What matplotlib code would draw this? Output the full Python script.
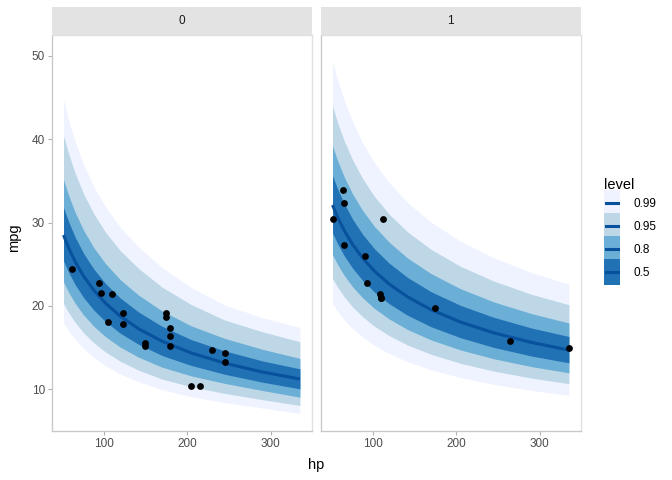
import matplotlib
matplotlib.use("Agg")
import matplotlib.pyplot as plt
from matplotlib.patches import Patch, Rectangle
from matplotlib.lines import Line2D

plt.rcParams['font.family'] = ['Liberation Sans', 'DejaVu Sans']

# prediction grid (hp) shared by both panels
hp_grid = [52, 58, 66, 76, 88, 102, 120, 142, 170, 205, 245, 290, 335]

# am = 0 : median and interval bounds
med_0 = [28.50, 26.99, 25.30, 23.57, 21.91, 20.35, 18.76, 17.25, 15.76, 14.35, 13.13, 12.07, 11.23]
up99_0 = [44.70, 42.33, 39.68, 36.97, 34.36, 31.92, 29.42, 27.05, 24.60, 22.20, 20.10, 18.60, 17.40]
up95_0 = [40.44, 38.30, 35.90, 33.45, 31.09, 28.88, 26.62, 24.48, 22.25, 20.15, 18.30, 16.90, 15.70]
up80_0 = [35.16, 33.30, 31.21, 29.08, 27.03, 25.11, 23.14, 21.28, 19.40, 17.60, 16.10, 14.80, 13.70]
up50_0 = [31.81, 30.13, 28.24, 26.31, 24.46, 22.72, 20.94, 19.26, 17.55, 15.95, 14.60, 13.40, 12.45]
lo50_0 = [25.40, 24.06, 22.55, 21.01, 19.53, 18.14, 16.72, 15.38, 14.05, 12.85, 11.80, 10.85, 10.05]
lo80_0 = [22.87, 21.66, 20.30, 18.92, 17.58, 16.33, 15.05, 13.84, 12.65, 11.60, 10.70, 9.85, 9.05]
lo95_0 = [20.29, 19.21, 18.01, 16.78, 15.60, 14.49, 13.35, 12.28, 11.22, 10.30, 9.50, 8.75, 8.05]
lo99_0 = [17.99, 17.04, 15.97, 14.88, 13.83, 12.85, 11.84, 10.89, 9.95, 9.10, 8.40, 7.75, 7.10]

# am = 1
med_1 = [32.10, 30.66, 29.05, 27.38, 25.75, 24.20, 22.61, 21.07, 19.54, 18.07, 16.77, 15.62, 14.70]
up99_1 = [49.35, 47.13, 44.66, 42.09, 39.59, 37.20, 34.76, 32.39, 30.04, 27.78, 25.78, 24.01, 22.60]
up95_1 = [43.99, 42.01, 39.81, 37.52, 35.29, 33.16, 30.98, 28.87, 26.78, 24.76, 22.98, 21.40, 20.14]
up80_1 = [39.21, 37.45, 35.48, 33.44, 31.45, 29.56, 27.62, 25.73, 23.87, 22.07, 20.48, 19.08, 17.95]
up50_1 = [35.65, 34.05, 32.27, 30.41, 28.60, 26.88, 25.11, 23.40, 21.70, 20.07, 18.63, 17.35, 16.33]
lo50_1 = [28.76, 27.47, 26.02, 24.53, 23.07, 21.68, 20.25, 18.87, 17.50, 16.19, 15.02, 13.99, 13.17]
lo80_1 = [26.15, 24.98, 23.66, 22.30, 20.98, 19.71, 18.42, 17.16, 15.92, 14.72, 13.66, 12.72, 11.97]
lo95_1 = [23.31, 22.26, 21.09, 19.88, 18.70, 17.57, 16.42, 15.30, 14.19, 13.12, 12.18, 11.34, 10.67]
lo99_1 = [20.26, 19.36, 18.34, 17.28, 16.26, 15.28, 14.27, 13.30, 12.34, 11.41, 10.59, 9.86, 9.28]

# observed cars
hp_0 = [110, 175, 105, 245, 62, 95, 123, 123, 180, 180, 180, 205, 215, 230, 97, 150, 150, 245, 175]
mpg_0 = [21.4, 18.7, 18.1, 14.3, 24.4, 22.8, 19.2, 17.8, 16.4, 17.3, 15.2, 10.4, 10.4, 14.7, 21.5, 15.5, 15.2, 13.3, 19.2]
hp_1 = [110, 110, 93, 66, 52, 65, 66, 91, 113, 264, 175, 335, 109]
mpg_1 = [21.0, 21.0, 22.8, 32.4, 30.4, 33.9, 27.3, 26.0, 30.4, 15.8, 19.7, 15.0, 21.4]

levels = ["0.99", "0.95", "0.8", "0.5"]
band_cols = ["#EFF3FF", "#BDD7E7", "#6BAED6", "#2171B5"]
line_col = "#08519C"


class BandKey:
    # legend key: filled box with the median line across its middle
    def legend_artist(self, legend, orig_handle, fontsize, handlebox):
        x0, y0 = -handlebox.xdescent, -handlebox.ydescent
        w, h = handlebox.width, handlebox.height
        tr = handlebox.get_transform()
        # a little taller than the box so neighbouring keys touch
        rect = Rectangle((x0, y0 - 1.3), w, h + 2.6, facecolor=orig_handle.get_facecolor(),
                         lw=0, transform=tr)
        ln = Line2D([x0 + 0.15 * w, x0 + 0.85 * w], [y0 + h / 2, y0 + h / 2],
                    color=line_col, lw=2.3, transform=tr)
        handlebox.add_artist(rect)
        handlebox.add_artist(ln)
        return rect


panels = [
    ("0", med_0, [(lo99_0, up99_0), (lo95_0, up95_0), (lo80_0, up80_0), (lo50_0, up50_0)], hp_0, mpg_0),
    ("1", med_1, [(lo99_1, up99_1), (lo95_1, up95_1), (lo80_1, up80_1), (lo50_1, up50_1)], hp_1, mpg_1),
]

fig = plt.figure(figsize=(7, 5), dpi=96)
W, H = 672, 480
lefts = [51.7, 320.7]
pw = 260
pbottom, ptop = 431, 35
strip_top = 7

for (lab, med, bands, px, py), x0 in zip(panels, lefts):
    ax = fig.add_axes([x0 / W, 1 - pbottom / H, pw / W, (pbottom - ptop) / H])
    for (lo, up), c in zip(bands, band_cols):
        ax.fill_between(hp_grid, lo, up, color=c, lw=0)
    ax.plot(hp_grid, med, color=line_col, lw=2.3, solid_capstyle='butt')
    ax.scatter(px, py, s=26, color='black', zorder=5, lw=0)
    ax.set_xlim(37.85, 349.15)
    ax.set_ylim(4.99, 52.5)
    ax.set_xticks([100, 200, 300])
    ax.set_yticks([10, 20, 30, 40, 50])
    for side in ['top', 'right']:
        ax.spines[side].set_color('#E0E0E0')
    for side in ['left', 'bottom']:
        ax.spines[side].set_color('#C8C8C8')
    for sp in ax.spines.values():
        sp.set_linewidth(1.0)
    ax.tick_params(colors='#B0B0B0', labelcolor='#4D4D4D', labelsize=8.8, length=3, width=0.8, pad=2)
    if x0 != lefts[0]:
        ax.tick_params(axis='y', left=False, labelleft=False)

    sax = fig.add_axes([x0 / W, 1 - ptop / H, pw / W, (ptop - strip_top) / H])
    sax.set_facecolor('#E3E3E3')
    sax.set_xticks([])
    sax.set_yticks([])
    for sp in sax.spines.values():
        sp.set_visible(False)
    sax.text(0.5, 0.5, lab, ha='center', va='center', fontsize=8.8, color='#1A1A1A')

fig.text(316 / W, 1 - 465 / H, "hp", ha='center', va='center', fontsize=11)
fig.text(14 / W, 1 - 238 / H, "mpg", ha='center', va='center', fontsize=11, rotation=90)

handles = [Patch(facecolor=c, lw=0) for c in band_cols]
leg = fig.legend(handles, levels, title="level", loc='upper left',
                 bbox_to_anchor=(599 / W, 1 - 173 / H), frameon=False,
                 fontsize=8.8, title_fontsize=11, handlelength=1.4, handleheight=2.64,
                 labelspacing=0, handletextpad=1.1, borderaxespad=0, alignment='left',
                 handler_map={Patch: BandKey()})

fig.savefig("out.png", dpi=96)
